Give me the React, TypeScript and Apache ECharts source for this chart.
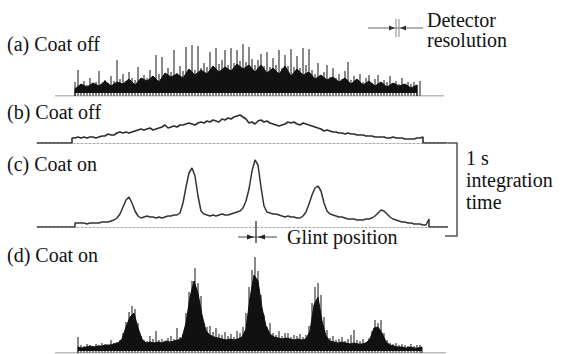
import React, { useEffect, useRef } from "react";
import * as echarts from "echarts";

// Horizontal domain shared by the four traces (position along the scan)
const X_MIN = 37;
const X_MAX = 448;

// Panel labels
const panelLabels = ["(a) Coat off", "(b) Coat off", "(c) Coat on", "(d) Coat on"];

// (a) Coat off — fast sampling: dense mass + spikes
const aStart = 75;
const aMassStep = 6;
const aMass = [
  7, 12, 9, 13, 10, 15, 10, 14, 12, 17,
  11, 18, 15, 20, 14, 23, 19, 22, 18, 27,
  21, 26, 22, 30, 24, 29, 25, 32, 27, 31,
  24, 31, 23, 28, 22, 30, 20, 27, 21, 24,
  17, 21, 16, 19, 14, 18, 12, 17, 11, 15,
  10, 14, 9, 13, 10, 12, 8, 11,
];
const aSpikeStep = 3;
const aSpikes = [
  14, 26, 12, 15, 11, 18, 13, 14, 25, 12,
  16, 13, 20, 15, 36, 17, 22, 15, 24, 18,
  16, 29, 17, 21, 18, 26, 20, 41, 22, 39,
  21, 28, 24, 46, 23, 30, 25, 49, 27, 51,
  26, 50, 28, 33, 29, 44, 30, 48, 32, 36,
  46, 31, 48, 33, 46, 35, 52, 34, 49, 37,
  31, 36, 42, 30, 44, 29, 38, 31, 46, 28,
  41, 30, 47, 29, 40, 28, 48, 31, 47, 26,
  22, 33, 20, 24, 31, 19, 28, 18, 22, 17,
  25, 34, 16, 20, 15, 22, 14, 18, 21, 13,
  17, 21, 12, 16, 14, 20, 13, 15, 12, 18,
  11, 14, 12, 14, 11, 15,
];
const aBaseline = [55, 444];

// (b) Coat off — 1 s integration
const bStart = 72;
const bStep = 3;
const bValues = [
  5, 5, 6, 5, 6, 5, 6, 6, 5, 6,
  7, 7, 9, 8, 8, 10, 11, 10, 11, 10,
  11, 12, 13, 14, 13, 14, 15, 13, 14, 15,
  16, 18, 15, 16, 17, 16, 18, 18, 19, 20,
  19, 18, 20, 21, 20, 22, 21, 23, 22, 21,
  24, 23, 25, 24, 26, 27, 28, 26, 24, 20,
  21, 19, 22, 23, 21, 22, 20, 19, 18, 17,
  18, 19, 21, 20, 21, 19, 18, 20, 19, 18,
  17, 16, 15, 14, 12, 13, 12, 11, 11, 10,
  10, 9, 10, 9, 9, 8, 8, 8, 7, 7,
  7, 6, 6, 6, 6, 5, 5, 6, 5, 5,
  5, 4, 4, 4, 4, 5, 5, 6,
];
const bBaseline = [37, 446];

// (c) Coat on — 1 s integration
const cStart = 75;
const cStep = 3;
const cValues = [
  4, 4, 4, 4, 3, 4, 4, 4, 4, 5,
  5, 5, 6, 7, 9, 13, 20, 27, 30, 24,
  16, 11, 9, 10, 11, 10, 10, 9, 10, 9,
  10, 11, 11, 12, 12, 14, 24, 40, 54, 59,
  51, 31, 16, 13, 12, 11, 12, 11, 12, 13,
  12, 12, 13, 14, 15, 16, 19, 26, 38, 56,
  67, 62, 40, 21, 15, 14, 13, 13, 12, 11,
  10, 11, 10, 10, 9, 9, 11, 15, 23, 32,
  39, 41, 36, 24, 16, 13, 12, 11, 10, 10,
  9, 8, 8, 8, 7, 7, 7, 8, 8, 9,
  11, 14, 17, 16, 13, 10, 8, 7, 6, 5,
  5, 4, 4, 3, 3, 3, 2, 2, 8,
];
const cBaseline = [37, 448];

// (d) Coat on — fast sampling
const dStart = 78;
const dMassStep = 4;
const dMass = [
  6, 5, 6, 7, 6, 7, 7, 8, 8, 9,
  10, 14, 26, 36, 40, 25, 14, 10, 11, 10,
  11, 10, 12, 11, 12, 13, 15, 30, 56, 72,
  60, 38, 22, 18, 16, 15, 14, 13, 14, 13,
  14, 16, 24, 55, 78, 72, 45, 27, 19, 16,
  15, 14, 15, 14, 13, 14, 13, 14, 22, 48,
  56, 32, 17, 12, 11, 10, 11, 10, 9, 10,
  9, 9, 10, 14, 25, 26, 20, 11, 8, 7,
  6, 6, 5, 6, 5, 5, 6,
];
const dSpikeStep = 3;
const dSpikes = [
  16, 8, 7, 9, 8, 7, 9, 8, 10, 9,
  8, 13, 10, 11, 13, 20, 31, 41, 47, 44,
  30, 17, 13, 12, 17, 14, 22, 13, 14, 12,
  15, 17, 14, 25, 16, 19, 40, 61, 72, 85,
  70, 57, 30, 26, 27, 21, 25, 19, 18, 21,
  17, 19, 16, 22, 20, 26, 40, 66, 83, 96,
  82, 58, 38, 26, 30, 20, 18, 22, 17, 20,
  20, 16, 18, 17, 19, 16, 18, 27, 50, 66,
  70, 58, 36, 23, 15, 17, 13, 14, 16, 12,
  14, 18, 23, 13, 12, 14, 11, 15, 22, 33,
  30, 33, 20, 13, 10, 9, 10, 8, 9, 8,
  7, 9, 7, 8, 8,
];
const dBaseline = [55, 446];

// Panel geometry (px) and value ranges
const panels = [
  { top: 40, height: 56, yMax: 56, dotted: false },
  { top: 108, height: 35, yMax: 35, dotted: true },
  { top: 152, height: 75, yMax: 75, dotted: true },
  { top: 253, height: 100, yMax: 100, dotted: false },
];

const SERIF_FAMILY = "Liberation Serif";

function pts(values: number[], start: number, step: number): number[][] {
  return values.map((v, i) => [start + i * step, v]);
}
function withDrops(p: number[][]): number[][] {
  return [[p[0][0], 0], ...p, [p[p.length - 1][0], 0]];
}
function withBase(p: number[][], base: number[]): number[][] {
  return [[base[0], 0], ...withDrops(p), [base[1], 0]];
}

function buildOption() {
  const grid = panels.map((p) => ({
    left: X_MIN,
    right: 570 - X_MAX,
    top: p.top,
    height: p.height,
  }));
  const xAxis = panels.map((p, i) => ({
    type: "value",
    gridIndex: i,
    min: X_MIN,
    max: X_MAX,
    axisLabel: { show: false },
    axisTick: { show: false },
    splitLine: { show: false },
    axisLine: {
      show: p.dotted,
      onZero: false,
      lineStyle: { color: "#a8a8a8", width: 1, type: [2, 2] },
    },
  }));
  const yAxis = panels.map((p, i) => ({
    type: "value",
    gridIndex: i,
    min: 0,
    max: p.yMax,
    show: false,
  }));

  const lineBase = {
    type: "line",
    symbol: "none",
    showSymbol: false,
    silent: true,
    animation: false,
  };

  const series: any[] = [
    // (a)
    {
      ...lineBase,
      xAxisIndex: 0,
      yAxisIndex: 0,
      data: [[aBaseline[0], 0], [aBaseline[1], 0]],
      lineStyle: { color: "#777", width: 1 },
    },
    {
      ...lineBase,
      xAxisIndex: 0,
      yAxisIndex: 0,
      data: withDrops(pts(aMass, aStart, aMassStep)),
      lineStyle: { color: "#111", width: 1 },
      areaStyle: { color: "#111", opacity: 1, origin: 3 },
    },
    {
      type: "bar",
      xAxisIndex: 0,
      yAxisIndex: 0,
      silent: true,
      barWidth: 1,
      data: pts(aSpikes, aStart, aSpikeStep),
      itemStyle: { color: "#141414" },
    },
    // (b)
    {
      ...lineBase,
      xAxisIndex: 1,
      yAxisIndex: 1,
      data: withBase(pts(bValues, bStart, bStep), bBaseline),
      lineStyle: { color: "#2e2e2e", width: 1.6 },
    },
    // (c)
    {
      ...lineBase,
      xAxisIndex: 2,
      yAxisIndex: 2,
      data: withBase(pts(cValues, cStart, cStep), cBaseline),
      lineStyle: { color: "#333", width: 1.5 },
    },
    // (d)
    {
      ...lineBase,
      xAxisIndex: 3,
      yAxisIndex: 3,
      data: [[dBaseline[0], 0], [dBaseline[1], 0]],
      lineStyle: { color: "#777", width: 1 },
    },
    {
      ...lineBase,
      xAxisIndex: 3,
      yAxisIndex: 3,
      data: withDrops(pts(dMass, dStart, dMassStep)),
      lineStyle: { color: "#111", width: 1 },
      areaStyle: { color: "#111", opacity: 1, origin: 2 },
    },
    {
      type: "bar",
      xAxisIndex: 3,
      yAxisIndex: 3,
      silent: true,
      barWidth: 1,
      data: pts(dSpikes, dStart, dSpikeStep),
      itemStyle: { color: "#141414" },
    },
  ];

  const txt = (text: string, x: number, y: number) => ({
    type: "text",
    x,
    y,
    silent: true,
    style: {
      text,
      fontSize: 20,
      fontFamily: SERIF_FAMILY,
      fontWeight: "normal",
      fill: "#111",
      verticalAlign: "middle",
      align: "left",
    },
  });

  const labelY = [44, 112, 164, 255];

  const graphic: any[] = [
    ...panelLabels.map((l, i) => txt(l, 7, labelY[i])),
    // Detector resolution marker
    txt("Detector", 427, 20),
    txt("resolution", 427, 40),
    { type: "line", silent: true, shape: { x1: 368, y1: 28, x2: 423, y2: 28 }, style: { stroke: "#666", lineWidth: 1.2 } },
    { type: "line", silent: true, shape: { x1: 396, y1: 19, x2: 396, y2: 37 }, style: { stroke: "#888", lineWidth: 1 } },
    { type: "line", silent: true, shape: { x1: 399, y1: 19, x2: 399, y2: 37 }, style: { stroke: "#888", lineWidth: 1 } },
    { type: "polygon", silent: true, shape: { points: [[389, 25.5], [395, 28], [389, 30.5]] }, style: { fill: "#333" } },
    { type: "polygon", silent: true, shape: { points: [[406, 25.5], [400, 28], [406, 30.5]] }, style: { fill: "#333" } },
    // 1 s integration time bracket
    {
      type: "polyline",
      silent: true,
      shape: { points: [[445, 143], [457, 143], [457, 236], [445, 236]] },
      style: { stroke: "#555", lineWidth: 1.5, fill: null },
    },
    txt("1 s", 466, 158),
    txt("integration", 466, 180),
    txt("time", 466, 202),
    // Glint position marker
    { type: "line", silent: true, shape: { x1: 256, y1: 221, x2: 256, y2: 243 }, style: { stroke: "#333", lineWidth: 1.3 } },
    { type: "line", silent: true, shape: { x1: 238, y1: 237, x2: 277, y2: 237 }, style: { stroke: "#444", lineWidth: 1.2 } },
    { type: "polygon", silent: true, shape: { points: [[247, 234.5], [254, 237], [247, 239.5]] }, style: { fill: "#222" } },
    { type: "polygon", silent: true, shape: { points: [[265, 234.5], [258, 237], [265, 239.5]] }, style: { fill: "#222" } },
    txt("Glint position", 287, 237),
  ];

  return {
    animation: false,
    backgroundColor: "#fff",
    textStyle: { fontFamily: SERIF_FAMILY },
    grid,
    xAxis,
    yAxis,
    series,
    graphic,
  };
}

export default function App() {
  const ref = useRef<HTMLDivElement>(null);
  useEffect(() => {
    if (!ref.current) return;
    const chart = echarts.init(ref.current, null, { renderer: "svg" });
    chart.setOption(buildOption() as any);
    return () => chart.dispose();
  }, []);
  return (
    <div
      ref={ref}
      style={{
        position: "fixed",
        left: 0,
        top: 0,
        width: 570,
        height: 354,
        background: "#fff",
        fontFamily: SERIF_FAMILY,
      }}
    />
  );
}
